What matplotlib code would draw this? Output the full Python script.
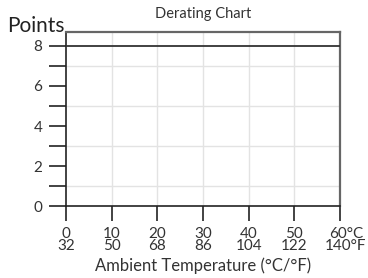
import matplotlib
matplotlib.use('Agg')
import matplotlib.pyplot as plt
import matplotlib.transforms as mtransforms

# derating data
temp_c = [0, 10, 20, 30, 40, 50, 60]
temp_f = [32, 50, 68, 86, 104, 122, 140]
curve_x = [0, 60]
curve_y = [8, 8]
y_major = [0, 2, 4, 6, 8]
y_minor = [1, 3, 5, 7]

plt.rcParams['font.family'] = ['Lato', 'DejaVu Sans']

fig = plt.figure(figsize=(3.68, 2.78), dpi=100)
ax = fig.add_axes([66/368, 72/278, 274/368, 174/278])

# grid
for x in temp_c[1:-1]:
    ax.axvline(x, color='#e3e3e3', lw=1, zorder=0)
for y in y_minor:
    ax.axhline(y, color='#e3e3e3', lw=1, zorder=0)

ax.plot(curve_x, curve_y, color='#333333', lw=1.3, zorder=3)

ax.set_xlim(0, 60)
ax.set_ylim(0, 8.7)

ax.set_yticks(y_major)
ax.set_yticks(y_minor, minor=True)
ax.set_yticklabels([str(v) for v in y_major], fontsize=11, color='#333333')
ax.set_xticks(temp_c)
labels = [f'{c}\n{f}' for c, f in zip(temp_c, temp_f)]
labels[-1] = f'{temp_c[-1]}°C\n{temp_f[-1]}°F'
ax.set_xticklabels(labels, fontsize=11, color='#333333', linespacing=0.85)
ax.tick_params(axis='y', which='both', direction='out', length=12, width=1.2,
               color='#222222', pad=5)
ax.tick_params(axis='x', direction='out', length=11, width=1.2, color='#222222', pad=4)

last = ax.get_xticklabels()[-1]
last.set_transform(last.get_transform() +
                   mtransforms.ScaledTranslation(6/100, 0, fig.dpi_scale_trans))

for s in ['left', 'bottom']:
    ax.spines[s].set_color('#222222')
    ax.spines[s].set_linewidth(1.2)
for s in ['top', 'right']:
    ax.spines[s].set_color('#666666')
    ax.spines[s].set_linewidth(1.6)

ax.set_xlabel('Ambient Temperature (°C/°F)', fontsize=12, color='#333333', labelpad=3)
fig.text(203/368, 1 - 14/278, 'Derating Chart', ha='center', va='center',
         fontsize=10.5, color='#333333')
fig.text(7/368, 1 - 26/278, 'Points', ha='left', va='center',
         fontsize=15, color='#222222')

fig.savefig('out.png', dpi=100)
